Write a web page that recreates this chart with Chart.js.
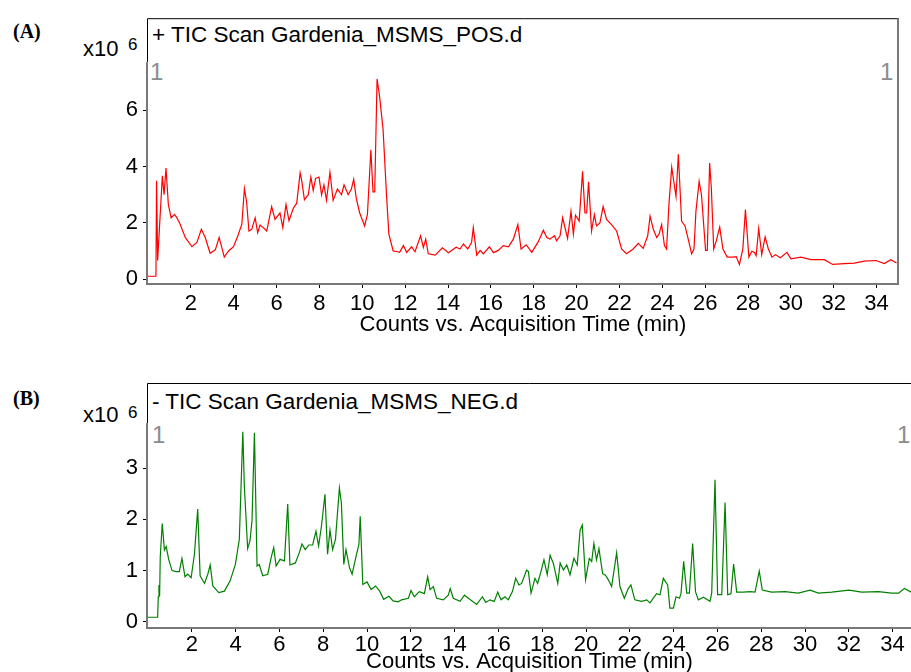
<!DOCTYPE html>
<html>
<head>
<meta charset="utf-8">
<script src="https://cdn.jsdelivr.net/npm/chart.js@4.4.1/dist/chart.umd.min.js"></script>
<style>
body { margin: 0; width: 911px; height: 672px; overflow: hidden; background: #fff; position: relative; font-family: "Liberation Sans", Arial, sans-serif; }
canvas { position: absolute; left: 0; }
.t { position: absolute; white-space: nowrap; line-height: 1; color: #000; }
.panel { font-family: "Liberation Serif", "Times New Roman", serif; font-weight: bold; font-size: 20px; }
.title { font-size: 22.5px; }
.exp { font-size: 22px; }
.sup { font-size: 17px; }
.one { font-size: 24px; color: #8c8c8c; }
</style>
</head>
<body>
<div class="t panel" style="left:13px; top:21px;">(A)</div>
<div class="t exp" style="left:83px; top:38px;">x10</div>
<div class="t sup" style="left:128px; top:36px;">6</div>
<div class="t title" style="left:152px; top:24px;">+ TIC Scan Gardenia_MSMS_POS.d</div>
<div class="t one" style="left:150px; top:60px;">1</div>
<div class="t one" style="left:880px; top:60px;">1</div>

<div class="t panel" style="left:13px; top:388px;">(B)</div>
<div class="t exp" style="left:83px; top:404px;">x10</div>
<div class="t sup" style="left:128px; top:404px;">6</div>
<div class="t title" style="left:152px; top:391px;">- TIC Scan Gardenia_MSMS_NEG.d</div>
<div class="t one" style="left:152px; top:423px;">1</div>
<div class="t one" style="left:897px; top:423px;">1</div>

<canvas id="pos" width="911" height="340" style="top:0px;"></canvas>
<canvas id="neg" width="911" height="340" style="top:340px;"></canvas>

<script>
// positive mode TIC, counts in units of 10^6
var posTime = [0, 0.37, 0.4, 0.45, 0.67, 0.75, 0.84, 0.95, 1.08, 1.24, 1.35, 1.5, 1.74, 2.05, 2.28, 2.49, 2.67, 2.9, 3.14, 3.32,
  3.56, 3.76, 3.99, 4.19, 4.38, 4.5, 4.6, 4.71, 4.84, 5.0, 5.12, 5.23, 5.38, 5.54, 5.77, 5.93, 6.16, 6.29, 6.44, 6.58,
  6.78, 6.94, 7.1, 7.17, 7.3, 7.48, 7.6, 7.71, 7.82, 7.98, 8.1, 8.21, 8.33, 8.49, 8.64, 8.84, 9.03, 9.15, 9.34, 9.49,
  9.6, 9.72, 9.88, 10.11, 10.24, 10.4, 10.5, 10.58, 10.69, 10.81, 10.97, 11.13, 11.24, 11.44, 11.6, 11.74, 11.92, 12.07, 12.3, 12.46,
  12.72, 12.85, 12.96, 13.08, 13.4, 13.74, 14.02, 14.38, 14.56, 14.72, 14.92, 15.1, 15.18, 15.34, 15.5, 15.65, 15.93, 16.12, 16.35, 16.58,
  16.82, 17.05, 17.26, 17.41, 17.65, 17.91, 18.22, 18.45, 18.61, 18.76, 18.97, 19.07, 19.23, 19.35, 19.58, 19.74, 19.85, 19.95, 20.12, 20.28,
  20.39, 20.47, 20.56, 20.7, 20.83, 20.93, 21.09, 21.24, 21.4, 21.63, 21.87, 22.1, 22.33, 22.64, 22.88, 23.11, 23.19, 23.32, 23.43, 23.58,
  23.74, 23.85, 23.97, 24.1, 24.2, 24.31, 24.44, 24.55, 24.64, 24.75, 24.9, 25.06, 25.21, 25.37, 25.48, 25.57, 25.72, 25.83, 26.02, 26.1,
  26.21, 26.29, 26.4, 26.52, 26.68, 26.83, 27.03, 27.29, 27.45, 27.6, 27.76, 27.88, 28.04, 28.18, 28.3, 28.38, 28.5, 28.64, 28.8, 28.95,
  29.12, 29.28, 29.51, 29.82, 30.0, 30.47, 30.94, 31.56, 31.95, 32.5, 32.96, 33.43, 33.97, 34.36, 34.67, 34.93];
var posCounts = [0.1, 0.1, 3.5, 0.66, 3.67, 3.0, 3.95, 2.65, 2.18, 2.3, 2.18, 1.95, 1.48, 1.15, 1.3, 1.77, 1.48, 0.92, 1.04, 1.48,
  0.78, 1.0, 1.15, 1.53, 1.95, 3.22, 2.76, 1.71, 1.77, 2.18, 1.65, 1.92, 1.83, 1.71, 2.58, 2.12, 2.35, 1.83, 2.65, 2.08,
  2.52, 2.7, 3.78, 3.52, 2.82, 3.0, 3.63, 3.15, 3.58, 3.63, 3.0, 3.35, 2.8, 3.8, 2.8, 3.2, 3.0, 3.35, 3.0, 3.2,
  3.55, 2.87, 2.35, 1.89, 2.3, 4.6, 3.1, 3.1, 7.12, 6.48, 5.32, 3.0, 1.6, 1.0, 0.98, 0.95, 1.19, 0.95, 1.15, 0.97,
  1.54, 1.13, 1.42, 0.9, 0.85, 1.11, 0.94, 1.13, 1.07, 1.25, 1.07, 1.3, 1.83, 0.85, 1.02, 0.9, 1.15, 0.94, 1.02, 1.19,
  1.15, 1.42, 1.94, 1.07, 1.22, 0.95, 1.34, 1.74, 1.48, 1.42, 1.54, 1.36, 1.54, 2.18, 1.45, 2.41, 1.6, 2.27, 2.06, 3.83,
  2.35, 2.35, 3.46, 1.71, 2.29, 1.89, 2.0, 2.58, 2.12, 1.94, 1.71, 1.07, 0.9, 1.07, 1.27, 1.09, 1.27, 1.54, 2.24, 1.77,
  1.48, 1.6, 1.94, 1.19, 1.07, 2.64, 3.98, 3.4, 2.94, 4.44, 2.06, 1.89, 1.42, 0.9, 1.07, 2.41, 3.48, 2.99, 1.02, 1.02,
  4.13, 3.22, 1.07, 1.36, 1.85, 1.07, 0.78, 0.78, 0.8, 0.52, 1.07, 2.47, 0.78, 0.99, 0.95, 0.83, 1.8, 0.87, 1.5, 1.07,
  0.78, 0.87, 0.76, 0.95, 0.72, 0.78, 0.69, 0.69, 0.52, 0.55, 0.57, 0.64, 0.66, 0.55, 0.69, 0.57];

// negative mode TIC, counts in units of 10^6
var negTime = [0, 0.44, 0.47, 0.5, 0.53, 0.56, 0.65, 0.75, 0.83, 0.95, 1.1, 1.28, 1.43, 1.55, 1.69, 1.81, 1.97, 2.12, 2.27, 2.38,
  2.58, 2.73, 2.84, 2.96, 3.23, 3.49, 3.75, 3.99, 4.17, 4.33, 4.4, 4.55, 4.66, 4.75, 4.86, 4.98, 5.08, 5.24, 5.47, 5.62,
  5.74, 5.85, 6.03, 6.23, 6.38, 6.48, 6.73, 6.91, 7.03, 7.18, 7.34, 7.52, 7.67, 7.79, 7.93, 8.08, 8.2, 8.31, 8.43, 8.56,
  8.74, 8.83, 8.94, 9.04, 9.2, 9.32, 9.5, 9.63, 9.69, 9.81, 10.0, 10.19, 10.39, 10.58, 10.76, 11.0, 11.19, 11.42, 11.58, 11.89,
  12.01, 12.16, 12.39, 12.62, 12.77, 12.88, 13.03, 13.18, 13.48, 13.71, 13.8, 13.94, 14.25, 14.45, 14.63, 15.01, 15.27, 15.42, 15.62, 15.81,
  15.97, 16.12, 16.3, 16.45, 16.64, 16.79, 16.94, 17.06, 17.29, 17.37, 17.49, 17.67, 17.79, 17.93, 18.08, 18.23, 18.36, 18.51, 18.71, 18.82,
  18.97, 19.12, 19.27, 19.45, 19.6, 19.73, 19.83, 19.98, 20.15, 20.26, 20.36, 20.48, 20.59, 20.76, 20.89, 21.02, 21.17, 21.4, 21.55, 21.75,
  21.93, 22.05, 22.23, 22.54, 22.77, 22.92, 23.22, 23.38, 23.53, 23.73, 23.83, 23.99, 24.11, 24.27, 24.34, 24.46, 24.6, 24.72, 24.87, 25.0,
  25.13, 25.36, 25.66, 25.74, 25.89, 26.01, 26.2, 26.35, 26.47, 26.62, 26.74, 26.88, 27.18, 27.49, 27.72, 27.91, 28.05, 28.47, 29.08, 29.69,
  30.23, 30.61, 31.22, 32.01, 32.59, 33.35, 33.96, 34.27, 34.54, 34.85];
var negCounts = [0.09, 0.09, 0.49, 0.72, 0.5, 1.27, 1.92, 1.4, 1.47, 1.21, 1.0, 0.98, 0.98, 1.24, 0.88, 0.93, 0.86, 1.32, 2.2, 0.9,
  0.75, 0.93, 1.11, 0.7, 0.57, 0.6, 0.8, 1.12, 1.61, 3.71, 2.64, 1.43, 1.59, 1.98, 3.69, 1.09, 1.12, 0.9, 0.93, 1.25,
  1.45, 1.09, 1.22, 1.19, 2.3, 1.11, 1.15, 1.35, 1.52, 1.41, 1.5, 1.5, 1.77, 1.48, 1.9, 2.49, 1.32, 1.79, 1.41, 1.61,
  2.61, 2.32, 1.12, 1.41, 1.06, 0.93, 1.28, 1.51, 2.06, 0.73, 0.78, 0.63, 0.7, 0.6, 0.44, 0.5, 0.41, 0.39, 0.43, 0.46,
  0.61, 0.49, 0.59, 0.55, 0.88, 0.63, 0.69, 0.46, 0.43, 0.52, 0.65, 0.46, 0.4, 0.52, 0.46, 0.34, 0.49, 0.38, 0.43, 0.4,
  0.58, 0.43, 0.49, 0.43, 0.59, 0.85, 0.72, 0.75, 1.01, 0.98, 0.56, 0.85, 0.75, 0.96, 1.21, 0.92, 1.3, 1.14, 0.75, 1.15,
  1.01, 1.11, 0.92, 1.24, 1.11, 1.79, 1.89, 0.82, 1.24, 1.18, 1.53, 1.21, 1.43, 0.94, 0.91, 0.82, 0.69, 1.35, 0.69, 0.46,
  0.65, 0.72, 0.43, 0.4, 0.43, 0.37, 0.55, 0.53, 0.85, 0.72, 0.27, 0.27, 0.49, 0.46, 0.56, 1.18, 0.56, 0.56, 1.53, 0.59,
  0.43, 0.48, 0.4, 0.56, 2.77, 0.53, 0.53, 2.33, 0.53, 0.55, 1.13, 0.58, 0.58, 0.59, 0.58, 0.99, 0.62, 0.58, 0.59, 0.56,
  0.62, 0.56, 0.58, 0.62, 0.58, 0.59, 0.56, 0.56, 0.65, 0.58];

var xTicks = [2, 4, 6, 8, 10, 12, 14, 16, 18, 20, 22, 24, 26, 28, 30, 32, 34];
var posYTicks = [0, 2, 4, 6];
var negYTicks = [0, 1, 2, 3];

Chart.defaults.font.family = '"Liberation Sans", Arial, sans-serif';
Chart.defaults.color = '#000';

function points(time, counts) {
  var out = [];
  for (var i = 0; i < time.length; i++) out.push({ x: time[i], y: counts[i] });
  return out;
}

// box round the plot: black header part, grey axes
var framePlugin = {
  id: 'frame',
  afterDraw: function (chart, args, opts) {
    var a = chart.chartArea, ctx = chart.ctx;
    ctx.save();
    ctx.strokeStyle = '#000';
    ctx.lineWidth = 1;
    ctx.beginPath();
    ctx.moveTo(a.left - 0.5, a.top + opts.header);
    ctx.lineTo(a.left - 0.5, a.top + 0.5);
    ctx.lineTo(a.right + 1, a.top + 0.5);
    ctx.stroke();
    ctx.strokeStyle = '#787878';
    ctx.lineWidth = 2;
    ctx.beginPath();
    ctx.moveTo(a.left - 1, a.top + opts.header);
    ctx.lineTo(a.left - 1, a.bottom + 1);
    ctx.lineTo(a.right, a.bottom + 1);
    if (opts.right) ctx.lineTo(a.right, a.top);
    ctx.stroke();
    ctx.restore();
  }
};

function ticChart(id, time, counts, color, yTicks, cfg) {
  return new Chart(document.getElementById(id), {
    type: 'line',
    data: {
      datasets: [{
        data: points(time, counts),
        borderColor: color,
        borderWidth: 1.2,
        pointRadius: 0,
        tension: 0,
        fill: false
      }]
    },
    options: {
      responsive: false,
      animation: false,
      layout: { padding: cfg.padding },
      plugins: {
        legend: { display: false },
        tooltip: { enabled: false },
        frame: { header: cfg.header, right: cfg.right }
      },
      scales: {
        x: {
          type: 'linear',
          min: 0,
          max: cfg.xMax,
          afterBuildTicks: function (s) { s.ticks = xTicks.map(function (v) { return { value: v }; }); },
          afterFit: function (s) { s.height = cfg.xHeight; },
          grid: { drawOnChartArea: false, drawTicks: true, tickLength: 5, color: '#000' },
          border: { display: false },
          ticks: { padding: cfg.tickPad, maxRotation: 0, autoSkip: false, font: { size: 22 } },
          title: {
            display: true,
            text: 'Counts vs. Acquisition Time (min)',
            font: { size: 22 },
            padding: { top: 0, bottom: cfg.titlePad }
          }
        },
        y: {
          type: 'linear',
          min: cfg.yMin,
          max: cfg.yMax,
          afterBuildTicks: function (s) { s.ticks = yTicks.map(function (v) { return { value: v }; }); },
          afterFit: function (s) { s.width = 40; },
          grid: { drawOnChartArea: false, drawTicks: true, tickLength: 5, color: '#000' },
          border: { display: false },
          ticks: { padding: 5, font: { size: 22 } }
        }
      }
    },
    plugins: [framePlugin]
  });
}

ticChart('pos', posTime, posCounts, '#ff0000', posYTicks, {
  padding: { left: 108, right: 13, top: 13, bottom: 0 },
  xMax: 35.0, yMin: -0.14, yMax: 9.28,
  xHeight: 57, tickPad: 3, titlePad: 2, header: 44, right: true
});

ticChart('neg', negTime, negCounts, '#008000', negYTicks, {
  padding: { left: 108, right: 0, top: 43, bottom: 0 },
  xMax: 34.84, yMin: -0.1, yMax: 4.66,
  xHeight: 53, tickPad: 0, titlePad: 5, header: 40, right: false
});
</script>
</body>
</html>
